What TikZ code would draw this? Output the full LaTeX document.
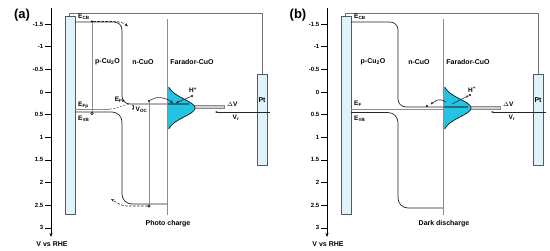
\documentclass[tikz,border=0pt]{standalone}
\usepackage{fontspec}
\setmainfont{Liberation Sans}
\usetikzlibrary{arrows.meta}
\definecolor{elecfill}{HTML}{DDF4F8}
\definecolor{gcyan}{HTML}{22C3E3}
\definecolor{gdark}{HTML}{1E6C7C}
\tikzset{
 band/.style={draw=black!85, line width=0.7pt},
 gline/.style={draw=black!45, line width=0.8pt},
 wire/.style={draw=black!55, line width=0.8pt},
 elec/.style={draw=black!65, fill=elecfill, line width=0.6pt},
 lbl/.style={font=\fontsize{7}{8}\selectfont\bfseries, inner sep=0pt},
 elbl/.style={font=\fontsize{6.5}{7}\selectfont\bfseries, inner sep=0pt},
 tlbl/.style={font=\fontsize{6}{7}\selectfont\bfseries, inner sep=0pt, anchor=east},
 plbl/.style={font=\fontsize{13}{14}\selectfont\bfseries, inner sep=0pt},
 dasharr/.style={draw=black!85, line width=0.6pt, dash pattern=on 2.5pt off 1.5pt, -{Stealth[length=3.5pt,width=2.6pt]}},
 earr/.style={draw=black!85, line width=0.6pt, -{Stealth[length=3pt,width=2.5pt]}},
 edot/.style={circle, fill=black, inner sep=0pt, minimum size=2.3pt},
 hdot/.style={circle, draw=black, fill=white, inner sep=0pt, minimum size=2.5pt, line width=0.4pt},
}
\newcommand\pcommon[1]{%
 \draw[line width=0.8pt, -{Stealth[length=4pt,width=3pt]}] (51,8) -- (51,237);
 \foreach \v [count=\i] in {-1.5,-1,-0.5,0,0.5,1,1.5,2,2.5,3}{%
   \draw[line width=0.6pt] (45,{92+45.3*\v}) -- (51,{92+45.3*\v});
   \node[tlbl] (#1t\i) at (43.5,{92+45.3*\v}) {\v};
 }
 \node[lbl] (#1rhe) at (52,244) {V vs RHE};
 \draw[elec] (65,16) rectangle (75,214);
 \draw[wire] (69,16) -- (69,13) -- (262,13) -- (262,74);
 \draw[elec] (257,74) rectangle (267,165);
 \node[lbl] (#1pt) at (262,100) {Pt};
 \fill[gcyan] (167,87) -- plot[domain=-21:21,samples=60] ({167+28*exp(-(\x)*(\x)/162)},{108+\x}) -- (167,129) -- cycle;
 \draw[black, line width=0.6pt] plot[domain=-21:21,samples=60] ({167+28*exp(-(\x)*(\x)/162)},{108+\x});
 \draw[gline] (167,19) -- (167,215);
 \node[lbl] (#1n) at (143,62) {n-CuO};
 \node[lbl] (#1far) at (192,62) {Farador-CuO};
 \draw[black!85, line width=0.6pt, {Stealth[length=2.5pt,width=2pt]}-] (215,112) -- (270,112);
 \node[elbl] (#1vr) at (236,117.5) {V\textsubscript{r}};
 \node[elbl, anchor=west] (#1dv) at (227,104) {$\Delta$V};
 \node[elbl, anchor=west] (#1ecb) at (78,17) {E\textsubscript{CB}};
}
\begin{document}
\begin{tikzpicture}[x=1pt,y=-1pt]
\useasboundingbox (0,0) rectangle (550,250);
% ---------------- panel (a)
\begin{scope}
 \fill[black!18] (185,105) rectangle (224,108.5);
 \draw[black!45, line width=0.4pt] (191,105) -- (224,105) (191,108.5) -- (224,108.5) (224,105) -- (224,108.5);
 \pcommon{a}
 \draw[gdark, line width=1.6pt] (167.5,104) -- (189,104);
 \node[plbl] (alab) at (22,15) {(a)};
 \node[lbl] (ap) at (107.5,62) {p-Cu\textsubscript{2}O};
 \node[lbl] (aph) at (168,224) {Photo charge};
 % bands
 \draw[band, rounded corners=8pt] (75,22) -- (122,22) -- (122,104) -- (167,104);
 \draw[band, rounded corners=10pt] (75,112) -- (122,112) -- (122,204) -- (167,204);
 % quasi Fermi levels
 \draw[gline] (75,109) -- (110,109);
 \draw[black!60, line width=0.6pt, dash pattern=on 2pt off 1.5pt] (110,109) .. controls (118,109) and (122,104.5) .. (130,104.5);
 \draw[black!85, line width=0.5pt, {Stealth[length=1.8pt,width=1.8pt]}-{Stealth[length=1.8pt,width=1.8pt]}] (133,104.6) -- (133,110);
 \node[elbl, anchor=west] (avoc) at (135.5,110) {V\textsubscript{OC}};
 \node[elbl, anchor=west] (aefp) at (78,105) {E\textsubscript{Fp}};
 \node[elbl] (aefn) at (120,99.5) {E\textsubscript{Fn}};
 \node[elbl, anchor=west] (aevb) at (78,119) {E\textsubscript{VB}};
 % excitation in p-Cu2O
 \node[edot] (ae1) at (92,21.5) {};
 \node[hdot] (ah1) at (92,113.5) {};
 \draw[gline, line width=0.7pt] (ae1) -- (ah1);
 \draw[dasharr] (ae1) -- (113,21.5) .. controls (120,21.5) and (124,23) .. (128,26.5);
 % excitation in n-CuO
 \node[edot] (ae2) at (149,101) {};
 \node[hdot] (ah2) at (149,206) {};
 \draw[gline, line width=0.7pt] (ae2) -- (ah2);
 \draw[dasharr] (ah2) -- (127,206) .. controls (121,206) and (116,202) .. (111,199);
 \draw[earr] (ae2) .. controls (156,96) and (165,97) .. (173,103);
 % H+
 \node[edot] (ahd) at (192,96) {};
 \node[elbl] (ahp) at (193,90) {H\textsuperscript{+}};
 \draw[earr] (ahd) -- (176,103);
\end{scope}
% ---------------- panel (b)
\begin{scope}[xshift=276pt]
 \fill[black!18] (185,106) rectangle (224,109.5);
 \draw[black!45, line width=0.4pt] (191,106) -- (224,106) (191,109.5) -- (224,109.5) (224,106) -- (224,109.5);
 \pcommon{b}
 \node[plbl] (blab) at (22,15) {(b)};
 \node[lbl] (bp) at (97,62) {p-Cu\textsubscript{2}O};
 \node[lbl] (bdd) at (168,224) {Dark discharge};
 \draw[gline] (75,109.5) -- (167,109.5);
 \draw[band, rounded corners=8pt] (75,22) -- (122,22) -- (122,107) -- (167,107);
 \draw[band, rounded corners=10pt] (75,112.5) -- (122,112.5) -- (122,208) -- (167,208);
 \draw[gdark, line width=1.6pt] (167.5,107) -- (192,107);
 \node[elbl, anchor=west] (bef) at (78,103.5) {E\textsubscript{F}};
 \node[elbl, anchor=west] (bevb) at (78,118.5) {E\textsubscript{VB}};
 \node[edot] (be) at (151,106) {};
 \draw[earr] (170,102) .. controls (164,98) and (160,100) .. (154.5,104.5);
 \node[edot] (bhd) at (194,95) {};
 \node[elbl] (bhp) at (196,89.5) {H\textsuperscript{+}};
 \draw[earr] (176,104) -- (bhd);
\end{scope}
\end{tikzpicture}
\end{document}
